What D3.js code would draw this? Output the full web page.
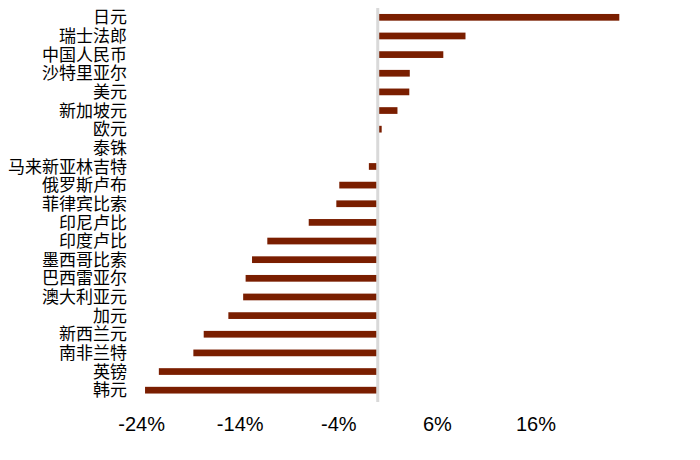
<!DOCTYPE html>
<html><head><meta charset="utf-8">
<script src="https://cdn.jsdelivr.net/npm/d3@7"></script>
<style>body{margin:0;background:#fff}svg{display:block}</style>
</head><body>
<script>
const categories = ["日元","瑞士法郎","中国人民币","沙特里亚尔","美元","新加坡元","欧元","泰铢","马来新亚林吉特","俄罗斯卢布","菲律宾比索","印尼卢比","印度卢比","墨西哥比索","巴西雷亚尔","澳大利亚元","加元","新西兰元","南非兰特","英镑","韩元"];
const values = [24.5,8.9,6.65,3.25,3.2,2.0,0.4,0,-0.9,-3.9,-4.2,-7.0,-11.2,-12.75,-13.4,-13.65,-15.15,-17.65,-18.7,-22.2,-23.6];
const tickValues = [-24,-14,-4,6,16];

const W=700,H=460;
const svg=d3.select("body").append("svg").attr("width",W).attr("height",H);
const x=d3.scaleLinear().domain([-4,6]).range([338.3,436.9]);
const y=d3.scaleBand().domain(categories).range([8,399.5]).paddingInner(0.64).paddingOuter(0.32);

svg.append("g").selectAll("rect").data(values).join("rect")
  .attr("x",(d)=>x(Math.min(0,d)))
  .attr("width",(d)=>Math.abs(x(d)-x(0)))
  .attr("y",(d,i)=>y(categories[i]))
  .attr("height",y.bandwidth())
  .attr("fill","#7a1e00");

svg.append("line").attr("x1",x(0)).attr("x2",x(0)).attr("y1",8).attr("y2",402)
  .attr("stroke","#d9d9d9").attr("stroke-width",3);

const yAxis=d3.axisLeft(y).tickSize(0).tickPadding(0);
const gy=svg.append("g").attr("transform","translate(127,0)").call(yAxis);
gy.select(".domain").remove();
gy.selectAll("text").attr("font-family","'Noto Sans CJK SC', sans-serif").attr("font-size",17).attr("fill","#000")
  .attr("dy","0.36em");

const xAxis=d3.axisBottom(x).tickValues(tickValues).tickSize(0).tickPadding(0).tickFormat(d=>d+"%");
const gx=svg.append("g").attr("transform","translate(0,417)").call(xAxis);
gx.select(".domain").remove();
gx.selectAll("text").attr("font-family","'Liberation Sans', Arial, sans-serif").attr("font-size",20).attr("fill","#000");
</script>
</body></html>
